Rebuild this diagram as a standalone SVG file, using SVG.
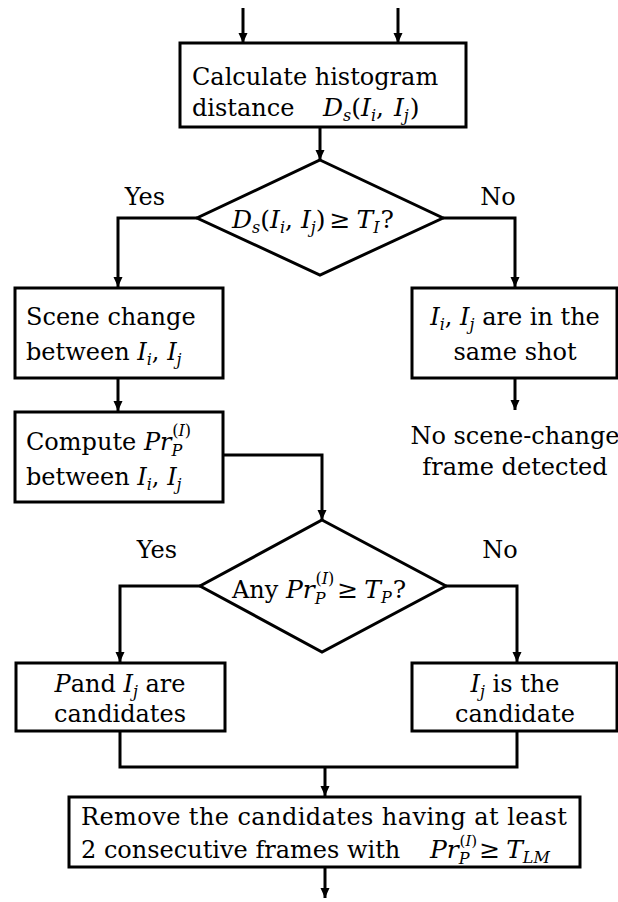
<svg xmlns="http://www.w3.org/2000/svg" width="618" height="902" viewBox="0 0 618 902">
  <style>
    .box { fill: #fff; stroke: #000; stroke-width: 3; }
    .ln { fill: none; stroke: #000; stroke-width: 3; }
    .t { font-family: "DejaVu Serif", "Liberation Serif", serif; font-size: 24px; fill: #000; }
    .m { font-size: 25px; }
    .c { text-anchor: middle; }
    .i { font-style: italic; }
    .s { font-size: 16px; }
  </style>
  <defs>
    <marker id="arrow" markerUnits="userSpaceOnUse" markerWidth="10" markerHeight="10" refX="10" refY="4.5" orient="auto">
      <path d="M0,0 L10,4.5 L0,9 z" fill="#000"/>
    </marker>
  </defs>

  <!-- connectors -->
  <g id="connectors">
    <line class="ln" x1="243" y1="8" x2="243" y2="43" marker-end="url(#arrow)"/>
    <line class="ln" x1="398" y1="8" x2="398" y2="43" marker-end="url(#arrow)"/>
    <line class="ln" x1="320" y1="127" x2="320" y2="160" marker-end="url(#arrow)"/>
    <polyline class="ln" points="197,218 118,218 118,287" marker-end="url(#arrow)"/>
    <polyline class="ln" points="443,218 515,218 515,287" marker-end="url(#arrow)"/>
    <line class="ln" x1="118" y1="378" x2="118" y2="411" marker-end="url(#arrow)"/>
    <line class="ln" x1="515" y1="378" x2="515" y2="410" marker-end="url(#arrow)"/>
    <polyline class="ln" points="223,455 322,455 322,520" marker-end="url(#arrow)"/>
    <polyline class="ln" points="200,586 120,586 120,662" marker-end="url(#arrow)"/>
    <polyline class="ln" points="446,586 517,586 517,662" marker-end="url(#arrow)"/>
    <polyline class="ln" points="120,731 120,767 517,767 517,731"/>
    <line class="ln" x1="325" y1="767" x2="325" y2="796" marker-end="url(#arrow)"/>
    <line class="ln" x1="325" y1="867" x2="325" y2="898" marker-end="url(#arrow)"/>
  </g>

  <!-- edge labels -->
  <g id="labels">
    <text class="t c" x="145" y="205">Yes</text>
    <text class="t c" x="498" y="205">No</text>
    <text class="t c" x="157" y="558">Yes</text>
    <text class="t c" x="500" y="558">No</text>
  </g>

  <g id="histogram">
    <rect class="box" x="180" y="43" width="286" height="84"/>
    <text class="t" x="192" y="85">Calculate histogram</text>
    <text class="t" x="192" y="116">distance</text>
    <text class="t m" x="323" y="116"><tspan class="i">D</tspan><tspan class="i s" dy="5">s</tspan><tspan dy="-5">(</tspan><tspan class="i">I</tspan><tspan class="i s" dy="5">i</tspan><tspan dy="-5">, </tspan><tspan class="i" dx="2">I</tspan><tspan class="i s" dy="5">j</tspan><tspan dy="-5" dx="1">)</tspan></text>
  </g>

  <g id="threshold-test">
    <polygon class="box" points="320,160 443,218 320,275 197,218"/>
    <text class="t m" x="232" y="228"><tspan class="i">D</tspan><tspan class="i s" dy="5">s</tspan><tspan dy="-5">(</tspan><tspan class="i">I</tspan><tspan class="i s" dy="5">i</tspan><tspan dy="-5">, </tspan><tspan class="i">I</tspan><tspan class="i s" dy="5">j</tspan><tspan dy="-5">)</tspan><tspan dx="4">≥</tspan><tspan class="i" dx="6">T</tspan><tspan class="i s" dy="5">I</tspan><tspan dy="-5" dx="1">?</tspan></text>
  </g>

  <g id="scene-change">
    <rect class="box" x="15" y="288" width="208" height="90"/>
    <text class="t" x="26" y="325">Scene change</text>
    <text class="t" x="26" y="360">between <tspan class="i">I</tspan><tspan class="i s" dy="5">i</tspan><tspan dy="-5">, </tspan><tspan class="i">I</tspan><tspan class="i s" dy="5">j</tspan></text>
  </g>

  <g id="same-shot">
    <rect class="box" x="412" y="288" width="205" height="90"/>
    <text class="t c" x="515" y="325"><tspan class="i">I</tspan><tspan class="i s" dy="5">i</tspan><tspan dy="-5">, </tspan><tspan class="i">I</tspan><tspan class="i s" dy="5">j</tspan><tspan dy="-5"> are in the</tspan></text>
    <text class="t c" x="515" y="360">same shot</text>
  </g>

  <g id="no-detection">
    <text class="t c" x="515" y="444">No scene-change</text>
    <text class="t c" x="515" y="475">frame detected</text>
  </g>

  <g id="compute-pr">
    <rect class="box" x="15" y="412" width="208" height="90"/>
    <text class="t" x="26" y="450">Compute <tspan class="i">Pr</tspan><tspan class="i s" dy="6">P</tspan><tspan class="s" dx="-10" dy="-20">(<tspan class="i">I</tspan>)</tspan></text>
    <text class="t" x="26" y="485">between <tspan class="i">I</tspan><tspan class="i s" dy="5">i</tspan><tspan dy="-5">, </tspan><tspan class="i">I</tspan><tspan class="i s" dy="5">j</tspan></text>
  </g>

  <g id="probability-test">
    <polygon class="box" points="322,520 446,586 322,652 200,586"/>
    <text class="t" x="232" y="598">Any <tspan class="m i">Pr</tspan><tspan class="i s" dy="6">P</tspan><tspan class="s" dx="-10" dy="-20">(<tspan class="i">I</tspan>)</tspan><tspan class="m" dy="14" dx="3">≥</tspan><tspan class="m i" dx="6">T</tspan><tspan class="i s" dy="5">P</tspan><tspan class="m" dy="-5" dx="1">?</tspan></text>
  </g>

  <g id="both-candidates">
    <rect class="box" x="16" y="663" width="209" height="68"/>
    <text class="t c" x="120" y="692"><tspan class="i">P</tspan>and <tspan class="i">I</tspan><tspan class="i s" dy="5">j</tspan><tspan dy="-5"> are</tspan></text>
    <text class="t c" x="120" y="722">candidates</text>
  </g>

  <g id="single-candidate">
    <rect class="box" x="412" y="663" width="205" height="68"/>
    <text class="t c" x="515" y="692"><tspan class="i">I</tspan><tspan class="i s" dy="5">j</tspan><tspan dy="-5"> is the</tspan></text>
    <text class="t c" x="515" y="722">candidate</text>
  </g>

  <g id="remove-candidates">
    <rect class="box" x="69" y="797" width="511" height="70"/>
    <text class="t" x="81" y="825" textLength="486">Remove the candidates having at least</text>
    <text class="t" x="81" y="858">2 consecutive frames with</text>
    <text class="t" x="430" y="858"><tspan class="m i">Pr</tspan><tspan class="i s" dy="6">P</tspan><tspan class="s" dx="-10" dy="-18" style="font-size:15px">(<tspan class="i">I</tspan>)</tspan><tspan class="m" dy="12" dx="2">≥</tspan><tspan class="m i" dx="6">T</tspan><tspan class="i s" dy="5">LM</tspan></text>
  </g>
</svg>
